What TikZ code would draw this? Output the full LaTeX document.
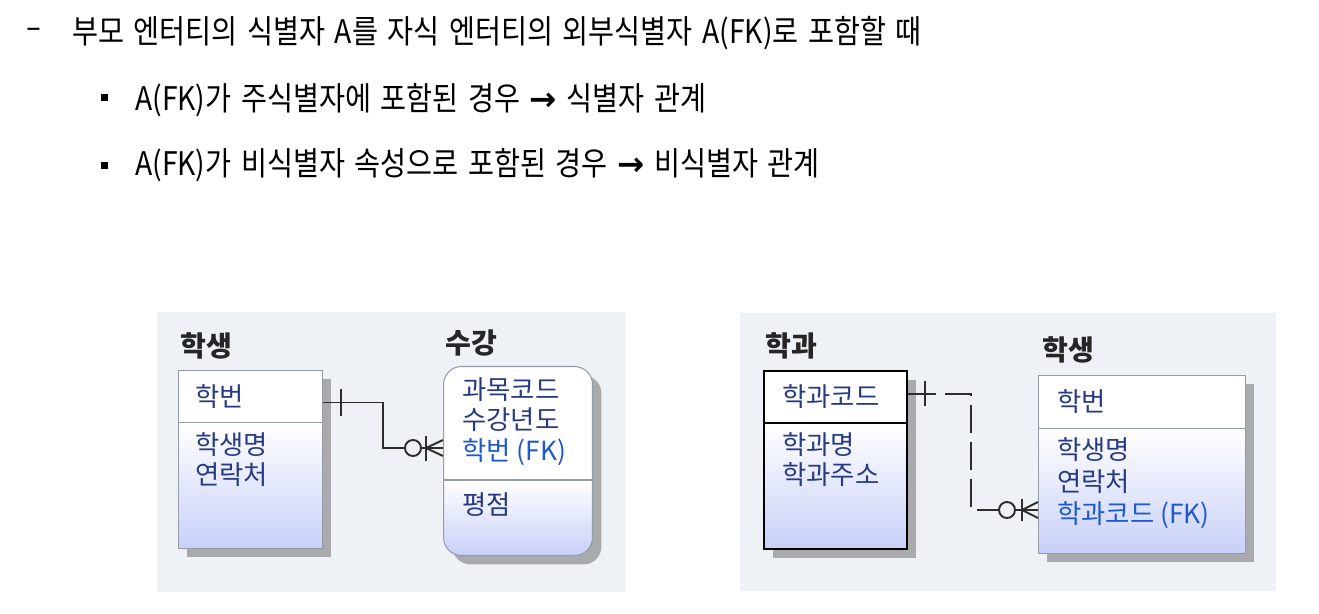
\documentclass[tikz,border=0pt]{standalone}
\usepackage{fontspec}
\setmainfont{Noto Sans CJK KR}
\newfontfamily\topfont[FakeStretch=0.87, WordSpace=1.5]{Noto Sans CJK KR}
\newfontfamily\erdfont{Noto Sans CJK KR}
\newfontfamily\arrowfont{DejaVu Sans}
\usepackage{xcolor}
\usetikzlibrary{positioning, calc, shadows}

\definecolor{panelbg}{RGB}{238,242,247}
\definecolor{attrtxt}{RGB}{40,58,130}
\definecolor{fktxt}{RGB}{30,90,205}
\definecolor{boxline}{RGB}{150,156,166}
\definecolor{shadowgray}{RGB}{168,170,174}
\definecolor{lav}{RGB}{200,208,248}
\definecolor{relline}{RGB}{45,45,45}

\pgfdeclareverticalshading{kshade}{100bp}{color(0bp)=(lav); color(25bp)=(lav); color(44.8bp)=(white); color(100bp)=(white)}

\tikzstyle{toptext}  = [font=\topfont\fontsize{18.5}{21}\selectfont, text=black]
\tikzstyle{bullet}   = [rectangle, fill=black, minimum size=0.14cm]
\tikzstyle{panel}    = [rectangle, fill=panelbg]
\tikzstyle{eshadow}  = [drop shadow={shadow xshift=5.1pt, shadow yshift=-5.1pt, fill=shadowgray, opacity=1}]
\tikzstyle{keybox}   = [rectangle, anchor=north west, draw=boxline, line width=0.6pt, fill=white, eshadow]
\tikzstyle{attbox}   = [rectangle, anchor=north west, draw=boxline, line width=0.6pt,
                        top color=white, bottom color=lav, eshadow]
\tikzstyle{elabel}   = [font=\erdfont\bfseries\fontsize{16}{18}\selectfont, text=black!85]
\tikzstyle{attr}     = [font=\erdfont\fontsize{15}{17.5}\selectfont, text=attrtxt, align=left]
\tikzstyle{rel}      = [line width=1.1pt, draw=relline]
\tikzstyle{zero}     = [circle, draw=relline, line width=1.1pt, minimum size=0.32cm]

\begin{document}
\begin{tikzpicture}[x=0.02cm, y=-0.02cm, every node/.style={inner sep=0pt}]
  \useasboundingbox (0,0) rectangle (1319,614);

  % --- Text ---
  \node (dash)  [font=\arrowfont\fontsize{17}{20}\selectfont] at (34,33) {–};
  \node (line1) [toptext, anchor=west] at (72,33)
        {부모 엔터티의 식별자 A를 자식 엔터티의 외부식별자 A(FK)로 포함할 때};
  \node (bul1)  [bullet] at (104,98) {};
  \node (line2) [toptext, anchor=west] at (135,100)
        {A(FK)가 주식별자에 포함된 경우 {\arrowfont\bfseries →} 식별자 관계};
  \node (bul2)  [bullet] at (104,166) {};
  \node (line3) [toptext, anchor=west] at (135,165)
        {A(FK)가 비식별자 속성으로 포함된 경우 {\arrowfont\bfseries →} 비식별자 관계};

  % --- Panels ---
  \node (lpanel) [panel, minimum width=9.36cm, minimum height=5.6cm] at (391,452) {};
  \node (rpanel) [panel, minimum width=10.74cm, minimum height=5.58cm] at (1008,452) {};

  % --- Identifying relationship ---
  \node (s1key) [keybox, minimum width=2.88cm, minimum height=1.04cm] at (178,370) {};
  \node (s1att) [attbox, minimum width=2.88cm, minimum height=2.52cm] at (178,422) {};
  \node (s1lbl) [elabel, above right=0.2cm and 0.04cm of s1key.north west] {학생};
  \node (s1pk)  [attr, right=0.34cm of s1key.west] {학번};
  \node (s1at)  [attr, below right=0.2cm and 0.34cm of s1att.north west] {학생명\\연락처};

  \node (s2) [anchor=north west, rounded corners=0.36cm, draw=boxline, line width=0.6pt,
              shading=kshade, eshadow, minimum width=2.98cm, minimum height=3.78cm] at (443,366) {};
  \draw[draw=boxline, line width=0.6pt] ($(s2.north west)+(0,114)$) -- ($(s2.north east)+(0,114)$);
  \node (s2lbl) [elabel, above right=0.18cm and 0.04cm of s2.north west] {수강};
  \node (s2pk)  [attr, below right=0.22cm and 0.38cm of s2.north west]
        {과목코드\\수강년도\\\textcolor{fktxt}{학번 (FK)}};
  \node (s2at)  [attr, below right=2.52cm and 0.38cm of s2.north west] {평점};

  \node (c1) [zero] at (413,448) {};
  \draw[rel] ($(s1key.east)+(0,6)$) -- ++(60,0) |- (c1.west);
  \draw[rel] ($(s1key.east)+(18,-8)$) -- ++(0,27);
  \draw[rel] (c1.east) -- (s2.west |- c1);
  \draw[rel] ($(c1.east)+(4,-12)$) -- ++(0,25);
  \draw[rel] ($(c1.east)+(4,0)$) -- ($(s2.west |- c1)+(0,-8)$);
  \draw[rel] ($(c1.east)+(4,0)$) -- ($(s2.west |- c1)+(0,8)$);

  % --- Non-identifying relationship ---
  \node (d1key) [keybox, draw=black, line width=1.2pt, minimum width=2.86cm, minimum height=1.04cm] at (763,370) {};
  \node (d1att) [attbox, draw=black, line width=1.2pt, minimum width=2.86cm, minimum height=2.52cm] at (763,422) {};
  \node (d1lbl) [elabel, above right=0.2cm and 0.04cm of d1key.north west] {학과};
  \node (d1pk)  [attr, right=0.38cm of d1key.west] {학과코드};
  \node (d1at)  [attr, below right=0.2cm and 0.38cm of d1att.north west] {학과명\\학과주소};

  \node (s3key) [keybox, minimum width=4.14cm, minimum height=1.06cm] at (1038,375) {};
  \node (s3att) [attbox, minimum width=4.14cm, minimum height=2.5cm] at (1038,428) {};
  \node (s3lbl) [elabel, above right=0.22cm and 0.08cm of s3key.north west] {학생};
  \node (s3pk)  [attr, right=0.38cm of s3key.west] {학번};
  \node (s3at)  [attr, below right=0.18cm and 0.38cm of s3att.north west, font=\erdfont\fontsize{15}{18.2}\selectfont]
        {학생명\\연락처\\\textcolor{fktxt}{학과코드 (FK)}};

  \node (c2) [zero] at (1007,510) {};
  \draw[rel, dash pattern=on 15.9pt off 5.1pt] ($(d1key.east)+(0,-3)$) -- ++(63,0) |- (c2.west);
  \draw[rel] ($(d1key.east)+(17,-16)$) -- ++(0,25);
  \draw[rel] (c2.east) -- (s3att.west |- c2);
  \draw[rel] ($(c2.east)+(6,-11)$) -- ++(0,22);
  \draw[rel] ($(c2.east)+(6,0)$) -- ($(s3att.west |- c2)+(0,-8)$);
  \draw[rel] ($(c2.east)+(6,0)$) -- ($(s3att.west |- c2)+(0,8)$);

\end{tikzpicture}
\end{document}
